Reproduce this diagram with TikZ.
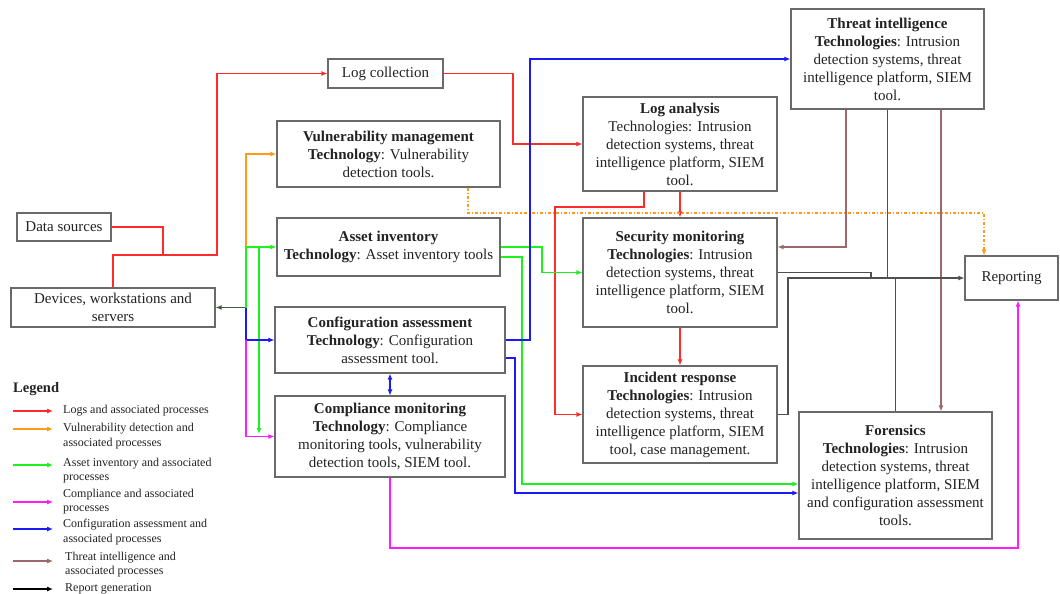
\documentclass[tikz,border=0pt]{standalone}
\usepackage{fontspec}
\setmainfont{Liberation Serif}
\usetikzlibrary{arrows.meta}
\definecolor{cred}{HTML}{FF2A2A}
\definecolor{corange}{HTML}{FF9A1A}
\definecolor{cgreen}{HTML}{1EF01E}
\definecolor{cmag}{HTML}{FF1AFF}
\definecolor{cblue}{HTML}{1A1AF5}
\definecolor{cbrown}{HTML}{9A6A6A}
\definecolor{cblack}{HTML}{505050}
\definecolor{cdev}{HTML}{4A5A4A}
\definecolor{boxgray}{HTML}{6A6A6A}
\definecolor{txt}{HTML}{222222}
\begin{document}
\begin{tikzpicture}[x=1pt,y=-1pt,
  box/.style={draw=boxgray,line width=1.1pt,align=center,inner sep=1pt,
    font=\fontsize{15}{18}\selectfont,text=txt},
  legtext/.style={align=left,inner sep=0pt,anchor=west,
    font=\fontsize{12}{14.5}\selectfont,text=txt},
  ln/.style={line width=1.1pt},
  arr/.style={line width=1.1pt,-{Latex[length=6pt,width=5pt]}},
  biarr/.style={line width=1.1pt,{Latex[length=6pt,width=5pt]}-{Latex[length=6pt,width=5pt]}}]
\useasboundingbox (0,0) rectangle (1060,594);

% ---------- boxes ----------
\node[box,minimum width=94pt,minimum height=28pt] (ds) at (64,227) {Data sources};
\node[box,minimum width=204pt,minimum height=39pt] (dev) at (113,307.5) {Devices, workstations and\\servers};
\node[box,minimum width=115pt,minimum height=29pt] (logc) at (385.5,73.5) {Log collection};
\node[box,minimum width=223pt,minimum height=66pt] (vuln) at (388.5,154) {\textbf{Vulnerability management}\\\textbf{Technology}: Vulnerability\\detection tools.};
\node[box,minimum width=223pt,minimum height=58pt] (asset) at (388.5,247) {\textbf{Asset inventory}\\\textbf{Technology}: Asset inventory tools};
\node[box,minimum width=230pt,minimum height=66pt] (conf) at (390,340) {\textbf{Configuration assessment}\\\textbf{Technology}: Configuration\\assessment tool.};
\node[box,minimum width=230pt,minimum height=81pt] (comp) at (390,436.5) {\textbf{Compliance monitoring}\\\textbf{Technology}: Compliance\\monitoring tools, vulnerability\\detection tools, SIEM tool.};
\node[box,minimum width=194pt,minimum height=94pt] (loga) at (680,144) {\textbf{Log analysis}\\Technologies: Intrusion\\detection systems, threat\\intelligence platform, SIEM\\tool.};
\node[box,minimum width=194pt,minimum height=109pt] (secm) at (680,272.5) {\textbf{Security monitoring}\\\textbf{Technologies}: Intrusion\\detection systems, threat\\intelligence platform, SIEM\\tool.};
\node[box,minimum width=194pt,minimum height=97pt] (incr) at (680,414.5) {\textbf{Incident response}\\\textbf{Technologies}: Intrusion\\detection systems, threat\\intelligence platform, SIEM\\tool, case management.};
\node[box,minimum width=193pt,minimum height=100pt] (thr) at (887.5,59) {\textbf{Threat intelligence}\\\textbf{Technologies}: Intrusion\\detection systems, threat\\intelligence platform, SIEM\\tool.};
\node[box,minimum width=93pt,minimum height=44pt] (rep) at (1011.5,278) {Reporting};
\node[box,minimum width=193pt,minimum height=127pt] (for) at (895.5,475.5) {\textbf{Forensics}\\\textbf{Technologies}: Intrusion\\detection systems, threat\\intelligence platform, SIEM\\and configuration assessment\\tools.};

% ---------- junctions ----------
\coordinate (J) at (246,307.5);
\coordinate (JL) at (163,255);

% ---------- red: logs ----------
\draw[ln,cred] (ds.east) -| (JL);
\draw[arr,cred] (dev.north) |- (217,255) |- (logc.west);
\draw[arr,cred] (logc.east) -| (513,144) -- (loga.west);
\draw[arr,cred] (loga.south) -- (secm.north);
\draw[arr,cred] ([xshift=-36pt]loga.south) |- (555,207) |- (incr.west);
\draw[arr,cred] (secm.south) -- (incr.north);

% ---------- left trunk ----------
\draw[arr,cdev] (J) -- (dev.east);
\draw[arr,corange] (246,247) |- (vuln.west);
\draw[arr,cgreen] (J) -- (246,247) -- (asset.west);
\draw[arr,cgreen] (259,247) -- (259,434);
\draw[arr,cblue] (J) |- (conf.west);
\draw[arr,cmag] (246,340) |- (comp.west);

% ---------- orange dash-dot ----------
\draw[arr,corange,dash dot] ([xshift=79.5pt]vuln.south) -- (468,213) -| ([xshift=-27.5pt]rep.north);

% ---------- green from asset inventory ----------
\draw[arr,cgreen] (asset.east) -| (542,272.5) -- (secm.west);
\draw[arr,cgreen] ([yshift=-10pt]asset.east) -| (522,484) -- ([yshift=-8.5pt]for.west);

% ---------- blue from configuration ----------
\draw[arr,cblue] (conf.east) -| (530,59) -- (thr.west);
\draw[arr,cblue] ([yshift=-18pt]conf.east) -| (515,493) -- ([yshift=-17.5pt]for.west);
\draw[biarr,cblue] (conf.south) -- (comp.north);

% ---------- magenta ----------
\draw[arr,cmag] (comp.south) -- (390,548) -| ([xshift=6.5pt]rep.south);

% ---------- brown: threat intelligence ----------
\draw[arr,cbrown] ([xshift=-41.5pt]thr.south) |- ([yshift=25.5pt]secm.east);
\draw[arr,cbrown] ([xshift=53.5pt]thr.south) -- ([xshift=45.5pt]for.north);

% ---------- black: report generation ----------
\draw[arr,cblack] (incr.east) -- (788,414.5) |- (rep.west);
\draw[ln,cblack] (thr.south) -- (887.5,278);
\draw[ln,cblack] (secm.east) -| (871,278);
\draw[ln,cblack] (for.north) -- (895.5,278);

% ---------- legend ----------
\node[inner sep=0pt,anchor=west,font=\fontsize{14.5}{16}\selectfont\bfseries,text=txt] (legtitle) at (13,389) {Legend};
\draw[arr,cred] (13,411) -- (53,411);
\node[legtext] (l1) at (63,411) {Logs and associated processes};
\draw[arr,corange] (13,429) -- (53,429);
\node[legtext] (l2) at (63,436) {Vulnerability detection and\\associated processes};
\draw[arr,cgreen] (13,465) -- (53,465);
\node[legtext] (l3) at (63,470.5) {Asset inventory and associated\\processes};
\draw[arr,cmag] (13,502) -- (53,502);
\node[legtext] (l4) at (63,501.5) {Compliance and associated\\processes};
\draw[arr,cblue] (13,529) -- (53,529);
\node[legtext] (l5) at (63,532) {Configuration assessment and\\associated processes};
\draw[arr,cbrown] (13,561) -- (53,561);
\node[legtext] (l6) at (65,564.5) {Threat intelligence and\\associated processes};
\draw[arr,black] (13,589) -- (53,589);
\node[legtext] (l7) at (65,589) {Report generation};
\end{tikzpicture}
\end{document}
